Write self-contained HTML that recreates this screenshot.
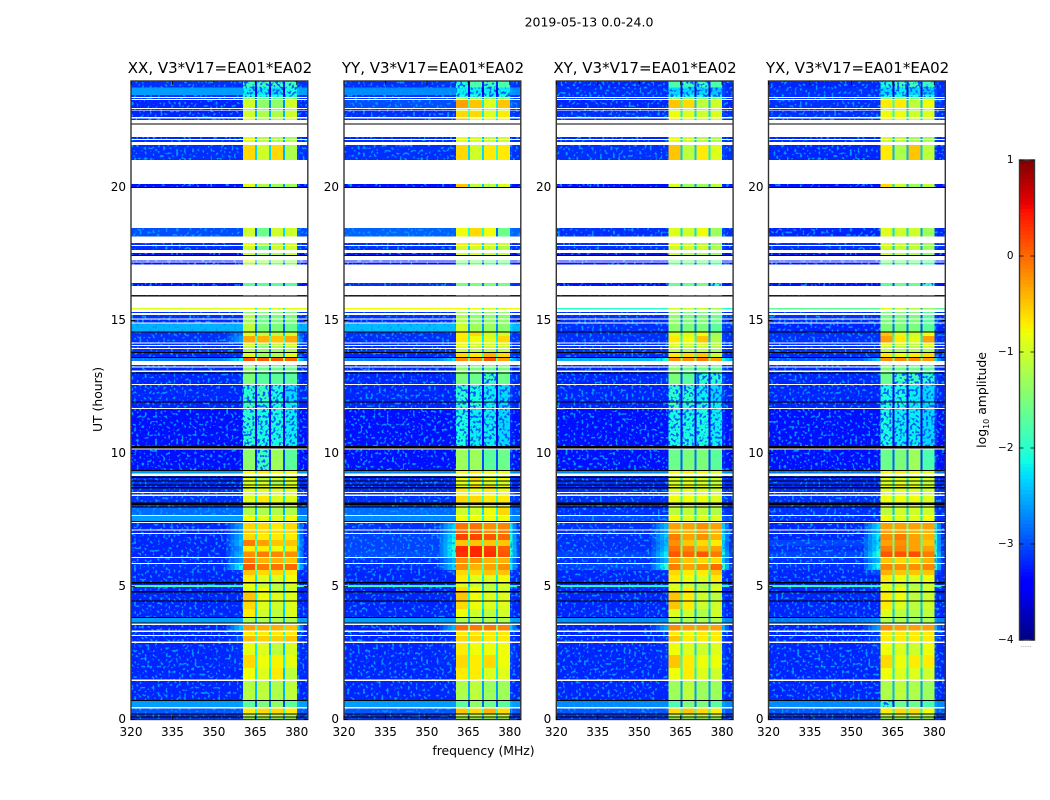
<!DOCTYPE html>
<html lang="en">
<head>
<meta charset="utf-8">
<title>2019-05-13 dynamic spectra</title>
<style>
html,body{margin:0;padding:0;background:#fff;}
svg{display:block;font-family:"DejaVu Sans","Liberation Sans",sans-serif;fill:#000;}
.heat rect{shape-rendering:crispEdges;}
</style>
</head>
<body>
<svg id="figure" width="1050" height="800" viewBox="0 0 1050 800" xmlns="http://www.w3.org/2000/svg">
<defs>
<filter id="speckle" x="0" y="0" width="100%" height="100%" color-interpolation-filters="sRGB">
<feTurbulence type="fractalNoise" baseFrequency="0.38" numOctaves="1" seed="4" result="n"/>
<feColorMatrix in="n" type="matrix" values="0 0 0 0 0  0 0 0 0 0.6  0 0 0 0 1  10 0 0 0 -5.7" result="c"/>
<feComposite in="c" in2="SourceAlpha" operator="in" result="s"/>
<feMerge><feMergeNode in="SourceGraphic"/><feMergeNode in="s"/></feMerge>
</filter>
<filter id="speckle-dark" x="0" y="0" width="100%" height="100%" color-interpolation-filters="sRGB">
<feTurbulence type="fractalNoise" baseFrequency="0.38" numOctaves="1" seed="9" result="n"/>
<feColorMatrix in="n" type="matrix" values="0 0 0 0 0  0 0 0 0 0.35  0 0 0 0 1  10 0 0 0 -5.2" result="c"/>
<feComposite in="c" in2="SourceAlpha" operator="in" result="s"/>
<feMerge><feMergeNode in="SourceGraphic"/><feMergeNode in="s"/></feMerge>
</filter>
</defs>
<text x="589" y="26.5" font-size="12.5" text-anchor="middle">2019-05-13 0.0-24.0</text>
<text x="220" y="73" font-size="15" text-anchor="middle">XX, V3*V17=EA01*EA02</text>
<text x="433" y="73" font-size="15" text-anchor="middle">YY, V3*V17=EA01*EA02</text>
<text x="645" y="73" font-size="15" text-anchor="middle">XY, V3*V17=EA01*EA02</text>
<text x="857.5" y="73" font-size="15" text-anchor="middle">YX, V3*V17=EA01*EA02</text>
<text x="483.5" y="755" font-size="12.4" text-anchor="middle">frequency (MHz)</text>
<text transform="translate(102,399.5) rotate(-90)" font-size="12.4" text-anchor="middle">UT (hours)</text>
<text transform="translate(986,400) rotate(-90)" font-size="12.4" text-anchor="middle">log<tspan font-size="8" dy="3">10</tspan><tspan dy="-3"> amplitude</tspan></text>
<text x="1026" y="647" font-size="6" text-anchor="middle" fill="#777">......</text>
<g id="plots"></g>
</svg>
<script>
// ---- axis values
const freqTicks = [320, 335, 350, 365, 380];
const utTicks = [0, 5, 10, 15, 20];
const colorbarTicks = [1, 0, -1, -2, -3, -4];
const colorbarLabels = ["1", "0", "\u22121", "\u22122", "\u22123", "\u22124"];
const polarizations = ["XX", "YY", "XY", "YX"];
// ---- observing bands (MHz)
const spillStart = 354.5;
const bandStart = [360.6, 365.7, 370.7, 375.8];
const bandEnd = [364.9, 370, 375.1, 380];
// ---- UT time rows: end time of each row, first row starts at 24 h
const rowEnds = [
23.76,23.48,23.40,23.37,23.33,23.29,22.99,22.95,22.90,22.87,
22.64,22.59,22.54,22.41,22.36,21.89,21.82,21.78,21.71,21.59,
21.03,20.13,20.02,19.98,18.48,18.15,17.91,17.84,17.79,17.65,
17.54,17.46,17.44,17.25,17.21,17.17,17.10,16.41,16.30,15.96,
15.93,15.90,15.47,15.42,15.32,15.28,15.21,15.07,15.03,14.93,
14.88,14.59,14.57,14.42,14.18,14.14,14.07,14.03,13.97,13.93,
13.81,13.78,13.62,13.59,13.48,13.33,13.26,13.23,13.11,13.07,
13.04,13.00,12.61,12.58,11.96,11.94,11.71,11.67,10.28,10.18,
10.14,9.38,9.34,9.24,9.16,9.13,9.08,8.99,8.94,8.84,
8.79,8.73,8.69,8.55,8.52,8.45,8.41,8.15,8.06,8.00,
7.96,7.69,7.65,7.47,7.44,7.39,7.15,7.11,7.01,6.97,
6.75,6.52,6.31,6.11,6.07,5.88,5.85,5.62,5.43,5.16,
5.12,5.05,4.98,4.83,4.78,4.47,4.43,4.16,3.85,3.83,
3.65,3.62,3.55,3.34,3.29,3.17,3.13,2.93,2.88,2.43,
1.94,1.51,1.45,0.73,0.71,0.47,0.41,0.23,0.21,0.11,
0.08,0];
// D = data, W = flagged (white), K = black line
const rowKinds = "DDDWDWDWDW"+"DWDWKWDWDW"+"DWDKWDWDWD"+"WDKWDWDWDW"+"DKWDWDWDWD"+"WDKDDWDWDW"+"DKDKDWDWDW"+"DKDWDKDWDK"+"WDKDWDKDKD"+"KDKDWDWDKD"+"KDWDKWDWDW"+"DDDDWDWDDD"+"KDDDKDKDDK"+"DKWDWDWDWD"+"DDWDKDWDKD"+"KD";
// ---- log10 amplitude per data row: [background, band-edge spill, band1, band2, band3, band4]
const levelsXX = [
[-3.15,-3.15,-1.9,-1.9,-1.9,-1.9],[-2.6,-2.6,-2.2,-2.2,-2.3,-2.1],[-3.15,-3.15,-2,-2,-2,-2],[-3.15,-3.15,-1.4,-1.6,-1.6,-1.4],
[-3.2,-3.2,-1,-1.4,-1.4,-1],[-3.15,-3.15,-1.2,-1.4,-1.4,-1.2],[-3.2,-3.2,-1,-1.2,-1.2,-1],[-3.15,-3.15,-.9,-1.2,-1.2,-1],
[-3.2,-3.2,-.9,-1.2,-1.2,-1.3],[-3.15,-3.15,-.9,-1.1,-1.2,-1.1],[-3.15,-3.15,-.6,-1,-.6,-1.2],[-3.3,-3.3,-.9,-1.2,-1.3,-1.3],
[-3,-3,-1,-1.6,-1,-1],[-3.15,-3.15,-.8,-1.1,-1.1,-1],[-3.15,-3.15,-1,-1.6,-1,-1],[-3.3,-3.3,-1,-1.3,-1.2,-1],
[-3.3,-3.3,-.8,-1.3,-1.3,-1.3],[-3.3,-3.3,-1.2,-1.3,-1.4,-1.4],[-3.3,-3.3,-1.7,-1.7,-1.7,-1.7],[-3.15,-3.15,-1,-1.2,-1.2,-1.2],
[-.9,-.9,-.8,-.9,-.9,-.9],[-3.15,-3.15,-1.4,-1.5,-1.5,-1.5],[-3.15,-3.15,-1.2,-1.6,-1.5,-1.5],[-3.15,-3.15,-1.3,-1.6,-1.5,-1.5],
[-2.5,-2.5,-1.1,-1.5,-1.5,-1.6],[-3.15,-2.8,-.9,-1.1,-1.1,-1],[-3.15,-2.6,-.35,-.4,-.5,-.35],[-3.15,-3.15,-1,-1.3,-1.1,-1],
[-3.15,-3.15,-1.1,-1.4,-1.2,-1.1],[-3.15,-3.15,-1.2,-1.4,-1.3,-1.2],[-3.2,-3.15,-.9,-1.3,-1.2,-.9],[-2.8,-2.2,.1,.05,.1,0],
[-3.15,-3.15,-1.4,-1.6,-1.6,-1.6],[-3.2,-3.2,-1.4,-1.6,-1.6,-1.6],[-3.2,-3.2,-1.5,-1.7,-1.7,-1.7],[-3.2,-3.15,-1.5,-1.7,-1.7,-1.7],
[-3.2,-3.2,-2,-1.9,-2.1,-2.3],[-3.2,-3.2,-1.9,-2.1,-2.1,-2.2],[-3.3,-3.3,-2,-2.1,-2.1,-2.2],[-3.3,-3.3,-1.4,-1.9,-1.3,-1.7],
[-2.6,-2.6,-.8,-.7,-.8,-.8],[-3.15,-3.15,-1,-1,-1,-1],[-3.2,-3.2,-.9,-1.1,-1,-.9],[-3.15,-3.15,-1,-1,-1.3,-1],
[-3.2,-3.2,-.8,-.8,-.8,-.8],[-3.15,-3.15,-.9,-.9,-.9,-.9],[-3.15,-3.15,-1,-1,-1,-1],[-3.15,-3.15,-.9,-.7,-.9,-.9],
[-3.15,-3.15,-1.1,-1,-1.1,-1],[-2.85,-2.85,-1.2,-1.2,-1.2,-1.2],[-2.6,-2.6,-.8,-.9,-.9,-.8],[-3.2,-2.6,-.6,-.6,-.7,-.6],
[-3.2,-2.7,-.5,-.6,-.6,-.6],[-3.2,-2.5,-.6,-.7,-.7,-.7],[-3.2,-2.4,-.1,-.3,-.5,-.5],[-3.2,-2.6,-.7,-.7,-.8,-.7],
[-3.2,-2.4,-.2,-.1,-.15,-.2],[-3.2,-2.6,-.1,-.4,-.4,-.5],[-3.15,-2.1,.1,-.1,-.05,0],[-3.2,-3.15,-.5,-.6,-.6,-.7],
[-3.2,-3.2,-.7,-.9,-.9,-.8],[-3.2,-3.2,-.8,-1,-1.1,-.9],[-1.8,-1.9,-.9,-1,-1.1,-1],[-3.2,-3.2,-.9,-.8,-1.1,-1],
[-3.2,-3.2,-.5,-.8,-.9,-.9],[-3.2,-3.2,-.6,-.9,-1,-.9],[-3.2,-3.2,-.7,-1,-1.1,-.9],[-2.6,-2.6,-1.2,-1.2,-1.2,-1.2],
[-3.2,-2.4,-.3,-.4,-.4,-.5],[-3.2,-3.15,-.7,-.7,-.7,-.7],[-3.2,-3,-.45,-.55,-.55,-.5],[-3.2,-3.15,-.85,-.9,-1.1,-.95],
[-3.2,-3.15,-.6,-.8,-.75,-.85],[-3.2,-3.2,-.8,-.9,-.7,-1.1],[-3.2,-3.2,-1.15,-1.1,-1.2,-1.1],[-2.6,-2.6,-1.7,-1.5,-1.4,-1.7],
[-2.95,-2.95,-.7,-.6,-.6,-.7],[-3.15,-3.15,-1.1,-1,-1,-1.1],[-3.15,-3.15,-1.3,-1.3,-1.3,-1.3]];
const levelsYY = [
[-3.15,-3.15,-2.1,-1.8,-1.9,-1.8],[-2.7,-2.7,-2.2,-2.2,-2.2,-2.2],[-3.15,-3.15,-2,-2,-2,-2],[-3.15,-3.15,-1.3,-1.4,-1.4,-1.4],
[-3,-3,-.3,-.5,-.9,-.5],[-3.15,-3.15,-.9,-.9,-1,-.9],[-3.15,-3.15,-.6,-.6,-.9,-.7],[-3.15,-3.15,-.5,-.8,-.9,-.8],
[-3.2,-3.2,-.9,-1,-1.1,-1],[-3.15,-3.15,-.9,-1,-1,-1],[-3.15,-3.15,-.6,-1,-.7,-.7],[-3.3,-3.3,-.5,-1.1,-1.1,-.9],
[-2.9,-2.9,-.8,-.6,-.8,-1.6],[-3.15,-3.15,-.7,-.7,-1,-1],[-3.15,-3.15,-1,-1,-1,-1.2],[-3.3,-3.3,-.9,-.9,-1,-1],
[-3.3,-3.3,-1.4,-1.5,-1.5,-1.5],[-3.3,-3.3,-1.6,-1.5,-1.6,-1.6],[-3.15,-3.15,-1.5,-1.5,-1.5,-1.5],[-3.15,-3.15,-1.1,-1.1,-1.2,-1.2],
[-.8,-.8,-.8,-.8,-.9,-.9],[-3.15,-3.15,-1.3,-1.4,-1.4,-1.4],[-3.15,-3.15,-1.2,-1.4,-1.4,-1.4],[-3.15,-3.15,-1.2,-1.4,-1.4,-1.4],
[-2.45,-2.45,-1,-1.3,-1.3,-1.4],[-3.15,-3.15,-.7,-.6,-1,-1],[-3.15,-3.15,-.7,-.8,-.9,-.6],[-3.15,-3.15,-.9,-1,-1,-1],
[-3.15,-3.15,-.9,-1,-1,-1],[-3.15,-3.15,-1,-1.1,-1.1,-1.1],[-3.2,-3.15,-.6,-.7,-.4,-.6],[-2.8,-2.3,-.2,-.2,.1,-.3],
[-3.15,-3.15,-1.4,-1.5,-1.5,-1.5],[-3.2,-3.2,-1.4,-1.5,-1.6,-1.5],[-3.2,-3.2,-1.5,-1.6,-1.7,-1.6],[-3.2,-3.15,-1.5,-1.6,-1.9,-1.6],
[-3.2,-3.2,-2,-2.1,-2.2,-2.3],[-3.2,-3.2,-2,-2,-2.2,-2.3],[-3.3,-3.3,-2.1,-2.2,-2.2,-2.3],[-3.3,-3.3,-1.3,-1.3,-1.7,-1.6],
[-2.7,-2.7,-.8,-.7,-.8,-.8],[-3.15,-3.15,-1,-1,-1,-1],[-3.2,-3.2,-.8,-.6,-.8,-.8],[-3.15,-3.15,-.9,-.8,-1,-1],
[-3.2,-3.2,-.8,-.6,-.6,-.8],[-3.15,-3.15,-.7,-.8,-.7,-.8],[-3.15,-3.15,-.8,-.8,-.8,-.9],[-3.15,-3.15,-.6,-.6,-.7,-.7],
[-3.15,-3.15,-.9,-.9,-.9,-.9],[-2.85,-2.85,-1,-1,-.8,-.6],[-2.7,-2.7,-.8,-.8,-.8,-.8],[-3.15,-2.3,-.05,-.05,-.2,-.15],
[-3.15,-2.5,0,0,-.2,-.1],[-3.05,-2.2,.2,.2,.1,0],[-3.05,-2.1,-.5,-.5,-.5,-.5],[-3.05,-2,.35,.35,.25,.05],
[-3,-2.1,.3,.35,.3,.1],[-3.15,-2.5,-.2,-.2,-.4,-.4],[-3.15,-2.3,-.2,-.4,-.3,-.2],[-3.2,-3.15,-.6,-.6,-.5,-.5],
[-3.2,-3.2,-.7,-.9,-.9,-.8],[-3.2,-3.2,-.8,-1,-1.1,-.9],[-1.9,-2,-.9,-1,-1.1,-1],[-3.2,-3.2,-.6,-.8,-1.1,-1],
[-3.2,-3.2,-.5,-.8,-.9,-.9],[-3.2,-3.2,-.6,-.8,-.9,-.9],[-3.2,-3.2,-.8,-1,-1.1,-1],[-2.6,-2.6,-1.2,-1.2,-1.2,-1.2],
[-3.2,-2.5,-.05,-.1,-.1,-.15],[-3.2,-3.15,-.7,-.7,-.7,-.7],[-3.2,-3.15,-.6,-.6,-.7,-.7],[-3.2,-3.15,-.7,-.8,-.8,-.8],
[-3.2,-3.15,-.6,-.7,-.6,-.8],[-3.2,-3.2,-.7,-.7,-.9,-.9],[-3.2,-3.2,-1.2,-1.1,-1.3,-1.3],[-2.6,-2.6,-1.7,-1.4,-1.6,-1.7],
[-2.95,-2.95,-.5,-.6,-.4,-.6],[-3.15,-3.15,-1,-1,-1,-1],[-3.15,-3.15,-1.3,-1.3,-1.3,-1.3]];
const levelsXY = [
[-3.2,-3.2,-1.8,-1.9,-1.9,-1.8],[-3.15,-3.15,-2.3,-2.3,-2.3,-2.4],[-3.15,-3.15,-2.1,-2.1,-2.1,-2.1],[-3.15,-3.15,-1.4,-1.4,-1.5,-1.5],
[-3.2,-3.2,-.5,-.6,-1.1,-1],[-3.15,-3.15,-1,-1,-1.2,-1.2],[-3.15,-3.15,-.8,-.9,-1,-.9],[-3.15,-3.15,-.7,-.9,-1,-1],
[-3.2,-3.2,-.8,-1,-1.2,-1.2],[-3.15,-3.15,-.9,-1,-1.1,-1.2],[-3.15,-3.15,-.5,-1.1,-.7,-.9],[-3.3,-3.3,-.9,-1.3,-1.3,-1.1],
[-3.15,-3.15,-.9,-1,-.8,-1.3],[-3.15,-3.15,-.8,-1,-1.1,-1.3],[-3.15,-3.15,-1,-1,-1,-1.2],[-3.3,-3.3,-1,-1.1,-1.2,-1.3],
[-3.3,-3.3,-1.4,-1.5,-1.6,-1.6],[-3.3,-3.3,-1.6,-1.6,-1.6,-1.7],[-3.3,-3.3,-1.6,-1.6,-1.5,-2],[-3.15,-3.15,-1.1,-1.2,-1.2,-1.3],
[-2,-2,-.9,-1,-1,-1.2],[-3.15,-3.15,-1.4,-1.5,-1.5,-1.5],[-3.15,-3.15,-1.4,-1.5,-1.5,-1.6],[-3.15,-3.15,-1.4,-1.5,-1.5,-1.6],
[-3.15,-3.15,-1.4,-1.5,-1.5,-1.7],[-3.15,-3.15,-.9,-.9,-.8,-1.3],[-3.15,-3.15,-.7,-.8,-.5,-1.2],[-3.15,-3.15,-.9,-1,-1,-1.1],
[-3.15,-3.15,-1,-1.1,-1,-1.2],[-3.15,-3.15,-1.1,-1.2,-1.1,-1.3],[-3.2,-3.15,-.7,-.6,-.5,-1],[-2.5,-2.1,-.2,-.2,-.1,-.3],
[-3.15,-3.15,-1.4,-1.5,-1.5,-1.6],[-3.2,-3.2,-1.4,-1.6,-1.6,-1.6],[-3.2,-3.2,-1.5,-1.7,-1.8,-1.7],[-3.2,-3.15,-1.5,-1.7,-2,-2],
[-3.2,-3.2,-2,-2,-2.2,-2.3],[-3.2,-3.2,-1.9,-2,-2.1,-2.2],[-3.3,-3.3,-2.1,-2.1,-2.1,-2.2],[-3.3,-3.3,-1.6,-1.5,-1.5,-1.7],
[-2.7,-2.7,-.8,-.7,-.8,-.9],[-3.15,-3.15,-1,-1,-1,-1.1],[-3.2,-3.2,-.9,-.9,-.9,-1],[-3.15,-3.15,-1,-.9,-1,-1.1],
[-3.2,-3.2,-.8,-.7,-.8,-.9],[-3.15,-3.15,-.9,-.9,-.9,-1],[-3.15,-3.15,-1,-1,-1,-1.1],[-3.15,-3.15,-.8,-.8,-.8,-.9],
[-3.15,-3.15,-1,-1,-1,-1],[-3.15,-3.15,-1.1,-1.1,-1.1,-1.2],[-3,-3,-.8,-.9,-.9,-.9],[-3.15,-2.5,-.3,-.3,-.2,-.3],
[-3.15,-2.6,-.4,-.4,-.3,-.4],[-3.15,-2.4,-.1,-.3,-.2,-.4],[-3.15,-2.5,-.2,-.5,-.6,-.7],[-3.15,-2.4,-.05,-.15,-.4,-.3],
[-3.05,-2.2,.1,0,.1,-.1],[-3.15,-2.5,-.3,-.5,-.6,-.6],[-3.05,-2,-.1,-.3,-.2,0],[-3.2,-3.15,-.6,-.7,-.7,-.5],
[-3.2,-3.2,-.7,-.8,-.9,-.7],[-3.2,-3.2,-.9,-1,-1.1,-1],[-2,-2.1,-.9,-1,-1.2,-1],[-3.2,-3.2,-.9,-.7,-1.1,-.9],
[-3.2,-3.2,-.5,-.7,-1,-1.1],[-3.2,-3.2,-.5,-.7,-1,-1],[-3.2,-3.2,-.9,-1,-1.2,-1],[-2.7,-2.7,-1.2,-1.2,-1.2,-1.2],
[-3.2,-2.6,-.2,-.3,-.3,-.3],[-3.2,-3.15,-.7,-.8,-.7,-.7],[-3.2,-3.15,-.5,-.7,-.7,-.7],[-3.2,-3.15,-.8,-.9,-1,-.9],
[-3.2,-3.15,-.5,-.7,-.8,-.8],[-3.2,-3.2,-.8,-.7,-.9,-1],[-3.2,-3.2,-1.3,-1.1,-1.3,-1.3],[-2.7,-2.7,-1.8,-1.5,-1.5,-1.7],
[-2.95,-2.95,-.6,-.5,-.6,-.7],[-3.15,-3.15,-1.1,-1,-1,-1.1],[-3.15,-3.15,-1.3,-1.3,-1.3,-1.3]];
const levelsYX = [
[-3.2,-3.2,-2.1,-1.9,-1.9,-1.9],[-3.15,-3.15,-2.3,-2.2,-2.3,-2.4],[-3.15,-3.15,-2.1,-2.1,-2.1,-2.1],[-3.15,-3.15,-1.4,-1.4,-1.5,-1.5],
[-3.15,-3.15,-.7,-.7,-1.1,-.8],[-3.15,-3.15,-1,-1,-1.2,-1.1],[-3.15,-3.15,-.8,-.8,-1,-.9],[-3.15,-3.15,-.7,-.8,-1,-1],
[-3.2,-3.2,-1,-1.1,-1.3,-1.3],[-3.15,-3.15,-1,-1.1,-1.2,-1.2],[-3.2,-3.2,-.7,-1.2,-.5,-1.1],[-3.3,-3.3,-.6,-1,-1.3,-1.1],
[-3.2,-3.2,-.9,-1,-1,-1.3],[-3.15,-3.15,-.9,-1,-1.1,-1.3],[-3.15,-3.15,-1,-1.1,-1.1,-1.3],[-3.3,-3.3,-1,-1.1,-1.2,-1.4],
[-3.3,-3.3,-1.4,-1.5,-1.6,-1.6],[-3.3,-3.3,-1.6,-1.6,-1.6,-1.8],[-3.3,-3.3,-1.7,-1.6,-1.6,-1.9],[-3.15,-3.15,-1.1,-1.2,-1.2,-1.3],
[-1.7,-1.7,-.9,-1,-1.1,-1.3],[-3.15,-3.15,-1.5,-1.5,-1.5,-1.7],[-3.15,-3.15,-1.5,-1.5,-1.5,-1.7],[-3.15,-3.15,-1.5,-1.5,-1.5,-1.7],
[-3.2,-3.2,-1.5,-1.5,-1.5,-1.7],[-3.15,-3.15,-.5,-.9,-1,-.8],[-3.15,-3.15,-.3,-.7,-.9,-.3],[-3.15,-3.15,-.9,-1,-1.1,-.9],
[-3.15,-3.15,-1,-1.1,-1.1,-1],[-3.15,-3.15,-1.1,-1.2,-1.2,-1.2],[-3.2,-3.15,-.7,-.8,-.7,-.6],[-3,-2.4,-.2,-.2,-.2,-.3],
[-3.15,-3.15,-1.4,-1.5,-1.6,-1.7],[-3.2,-3.2,-1.5,-1.6,-1.6,-1.7],[-3.2,-3.2,-1.5,-1.7,-1.8,-1.8],[-3.2,-3.15,-1.6,-1.9,-1.9,-2],
[-3.2,-3.2,-2.1,-2.1,-2.2,-2.3],[-3.2,-3.2,-2.1,-2.1,-2.2,-2.3],[-3.3,-3.3,-2.1,-2.2,-2.2,-2.3],[-3.3,-3.3,-1.6,-1.5,-1.3,-1.8],
[-2.8,-2.8,-.8,-.7,-.8,-.9],[-3.15,-3.15,-1,-1,-1,-1.1],[-3.2,-3.2,-.9,-.9,-.9,-1],[-3.15,-3.15,-1,-.9,-1,-1.1],
[-3.2,-3.2,-.8,-.7,-.8,-.9],[-3.15,-3.15,-.9,-.9,-.9,-1],[-3.15,-3.15,-1,-1,-1,-1.1],[-3.15,-3.15,-.8,-.8,-.8,-.9],
[-3.15,-3.15,-1,-1,-1,-1],[-3.15,-3.15,-1.1,-1,-1,-1],[-3.15,-3.15,-.8,-.9,-.9,-.8],[-3.2,-2.3,-.3,-.3,-.3,-.3],
[-3.2,-2.5,-.3,-.3,-.4,-.4],[-3.2,-2.2,-.2,-.1,-.3,-.4],[-3.05,-2.3,-.3,-.2,-.3,-.5],[-3.15,-2.2,-.1,-.15,-.3,-.3],
[-3.05,-2,.1,.1,.15,-.1],[-3.15,-2.4,-.5,-.6,-.6,-.4],[-3.15,-2.1,-.15,-.2,-.2,-.15],[-3.2,-3,-.4,-.5,-.5,-.5],
[-3.2,-3.2,-.7,-.8,-.9,-.8],[-3.2,-3.2,-.9,-1,-1.1,-1],[-1.9,-2,-.9,-1,-1.2,-1],[-3.2,-3.2,-.9,-.8,-1.1,-1],
[-3.2,-3.2,-.7,-.8,-1.1,-1],[-3.2,-3.2,-.7,-.9,-1.1,-1],[-3.2,-3.2,-.9,-1.1,-1.2,-1.1],[-2.8,-2.7,-1.2,-1.2,-1.3,-1.2],
[-3.2,-2.6,-.2,-.3,-.3,-.3],[-3.2,-3.15,-.7,-.7,-.7,-.7],[-3.2,-3,-.7,-.7,-.7,-.7],[-3.2,-3.15,-.8,-.9,-1,-.8],
[-3.2,-3.15,-.6,-.8,-.7,-.7],[-3.2,-3.2,-.8,-.9,-.9,-1],[-3.2,-3.2,-1.2,-1.1,-1.2,-1.3],[-2.7,-2.7,-1.9,-1.6,-1.6,-1.8],
[-2.95,-2.95,-.7,-.6,-.6,-.8],[-3.15,-3.15,-1.1,-1,-1,-1.1],[-3.15,-3.15,-1.3,-1.3,-1.3,-1.3]];

// ---- layout
const plotLeft = [131, 344, 556.3, 768.5];
const plotWidth = 176.8, plotTop = 81, plotBottom = 719.5;
const barLeft = 1019.5, barWidth = 15, barTop = 160, barBottom = 640;
const NS = "http://www.w3.org/2000/svg";
const plots = document.getElementById("plots");
const panelLevels = [levelsXX, levelsYY, levelsXY, levelsYX];

// ---- scales
function xScale(p, mhz){ return plotLeft[p] + (mhz - 320) * plotWidth / 64; }
function yScale(ut){ return plotBottom - ut * (plotBottom - plotTop) / 24; }
function barScale(v){ return barBottom - (v + 4) * (barBottom - barTop) / 5; }
function ramp(t, pts){
  for (let i = 1; i < pts.length; i++){
    if (t <= pts[i][0]){
      const a = pts[i-1], b = pts[i];
      return a[1] + (b[1]-a[1]) * (t-a[0]) / (b[0]-a[0]);
    }
  }
  return pts[pts.length-1][1];
}
function jet(v){
  const t = Math.min(1, Math.max(0, (v + 4) / 5));
  const r = ramp(t, [[0,0],[.35,0],[.66,1],[.89,1],[1,.5]]);
  const g = ramp(t, [[0,0],[.125,0],[.375,1],[.64,1],[.91,0],[1,0]]);
  const b = ramp(t, [[0,.5],[.11,1],[.34,1],[.65,0],[1,0]]);
  return "rgb(" + Math.round(r*255) + "," + Math.round(g*255) + "," + Math.round(b*255) + ")";
}
function shape(tag, parent, attrs){
  const el = document.createElementNS(NS, tag);
  for (const k in attrs) el.setAttribute(k, attrs[k]);
  parent.appendChild(el);
  return el;
}
function cell(parent, x0, x1, y0, y1, fill){
  const el = shape("rect", parent, {x:x0, y:y0, width:x1-x0, height:y1-y0, fill:fill});
  
  
  return el;
}

// ---- panels
polarizations.forEach(function(pol, p){
  const panel = shape("g", plots, {});
  
  
  const bgLayer = shape("g", panel, {"class":"heat", filter:"url(#speckle)"});
  
  
  const noisyLayer = shape("g", panel, {"class":"heat", filter:"url(#speckle-dark)"});
  
  
  const bandLayer = shape("g", panel, {"class":"heat"});
  
  
  const maskLayer = shape("g", panel, {"class":"heat"});
  
  
  let top = 24, d = 0;
  rowEnds.forEach(function(end, i){
    const kind = rowKinds[i];
    const y0 = yScale(top), y1 = yScale(end);
    const x = function(f){ return xScale(p, f); };
    if (kind === "K"){
      cell(maskLayer, x(320), x(384), y0, Math.max(y1, y0 + 1), "#000");
    } else if (kind === "D"){
      const lv = panelLevels[p][d++];
      const bg = lv[0], sp = lv[1];
      const floorLayer = bg > -2.2 ? bandLayer : bgLayer;
      cell(floorLayer, x(320), x(spillStart), y0, y1, jet(bg));
      const steps = 4;
      for (let s = 0; s < steps; s++){
        const f0 = spillStart + (bandStart[0]-spillStart)*s/steps;
        const f1 = spillStart + (bandStart[0]-spillStart)*(s+1)/steps;
        cell(floorLayer, x(f0), x(f1), y0, y1, jet(bg + (sp-bg)*(s+1)/steps));
      }
      for (let b = 0; b < 4; b++){
        const layer = lv[b+2] <= -1.9 ? noisyLayer : bandLayer;
        cell(layer, x(bandStart[b]), x(bandEnd[b]), y0, y1, jet(lv[b+2]));
        if (b < 3){
          const gap = Math.min(lv[b+2], lv[b+3]) - 1.3;
          cell(bandLayer, x(bandEnd[b]), x(bandStart[b+1]), y0, y1, jet(gap));
        }
      }
      cell(floorLayer, x(bandEnd[3]), x(381), y0, y1, jet(sp + .1));
      cell(floorLayer, x(381), x(382.5), y0, y1, jet((sp+bg)/2));
      cell(floorLayer, x(382.5), x(384), y0, y1, jet(bg));
    }
    top = end;
  });
  // frame
  const frame = shape("rect", panel, {x:plotLeft[p], y:plotTop, width:plotWidth, height:plotBottom-plotTop, fill:"none", stroke:"#333", "stroke-width":1.4});
  
  
  // x ticks
  freqTicks.forEach(function(f){
    const px = xScale(p, f);
    const t1 = shape("path", panel, {d:"M"+px+" "+plotBottom+"v-4M"+px+" "+plotTop+"v4", stroke:"#000", "stroke-width":.8, fill:"none"});
    
    
    const lab = shape("text", panel, {x:px, y:736, "font-size":12, "text-anchor":"middle"});
    lab.textContent = String(f);
    
    
  });
  // y ticks
  utTicks.forEach(function(u){
    const py = yScale(u);
    const x0 = plotLeft[p], x1 = plotLeft[p] + plotWidth;
    const t2 = shape("path", panel, {d:"M"+x0+" "+py+"h4M"+x1+" "+py+"h-4", stroke:"#000", "stroke-width":.8, fill:"none"});
    
    
    const lab = shape("text", panel, {x:x0-5, y:py+3.5, "font-size":12, "text-anchor":"end"});
    lab.textContent = String(u);
    
    
  });
});

// ---- colorbar
const bar = shape("g", plots, {"class":"heat"});


const barSteps = 128;
for (let i = 0; i < barSteps; i++){
  const v0 = -4 + 5 * i / barSteps, v1 = -4 + 5 * (i + 1) / barSteps;
  const seg = shape("rect", bar, {x:barLeft, y:barScale(v1), width:barWidth, height:barScale(v0)-barScale(v1), fill:jet((v0+v1)/2)});
  
  
}
const barFrame = shape("rect", plots, {x:barLeft, y:barTop, width:barWidth, height:barBottom-barTop, fill:"none", stroke:"#333", "stroke-width":1.4});


colorbarTicks.forEach(function(v, i){
  const py = barScale(v);
  const t = shape("path", plots, {d:"M"+barLeft+" "+py+"h4M"+(barLeft+barWidth)+" "+py+"h-4", stroke:"#000", "stroke-width":.8, fill:"none"});
  
  
  const lab = shape("text", plots, {x:1013.5, y:py+3, "font-size":10.5, "text-anchor":"end"});
  lab.textContent = colorbarLabels[i];
  
  
});
</script>
</body>
</html>
